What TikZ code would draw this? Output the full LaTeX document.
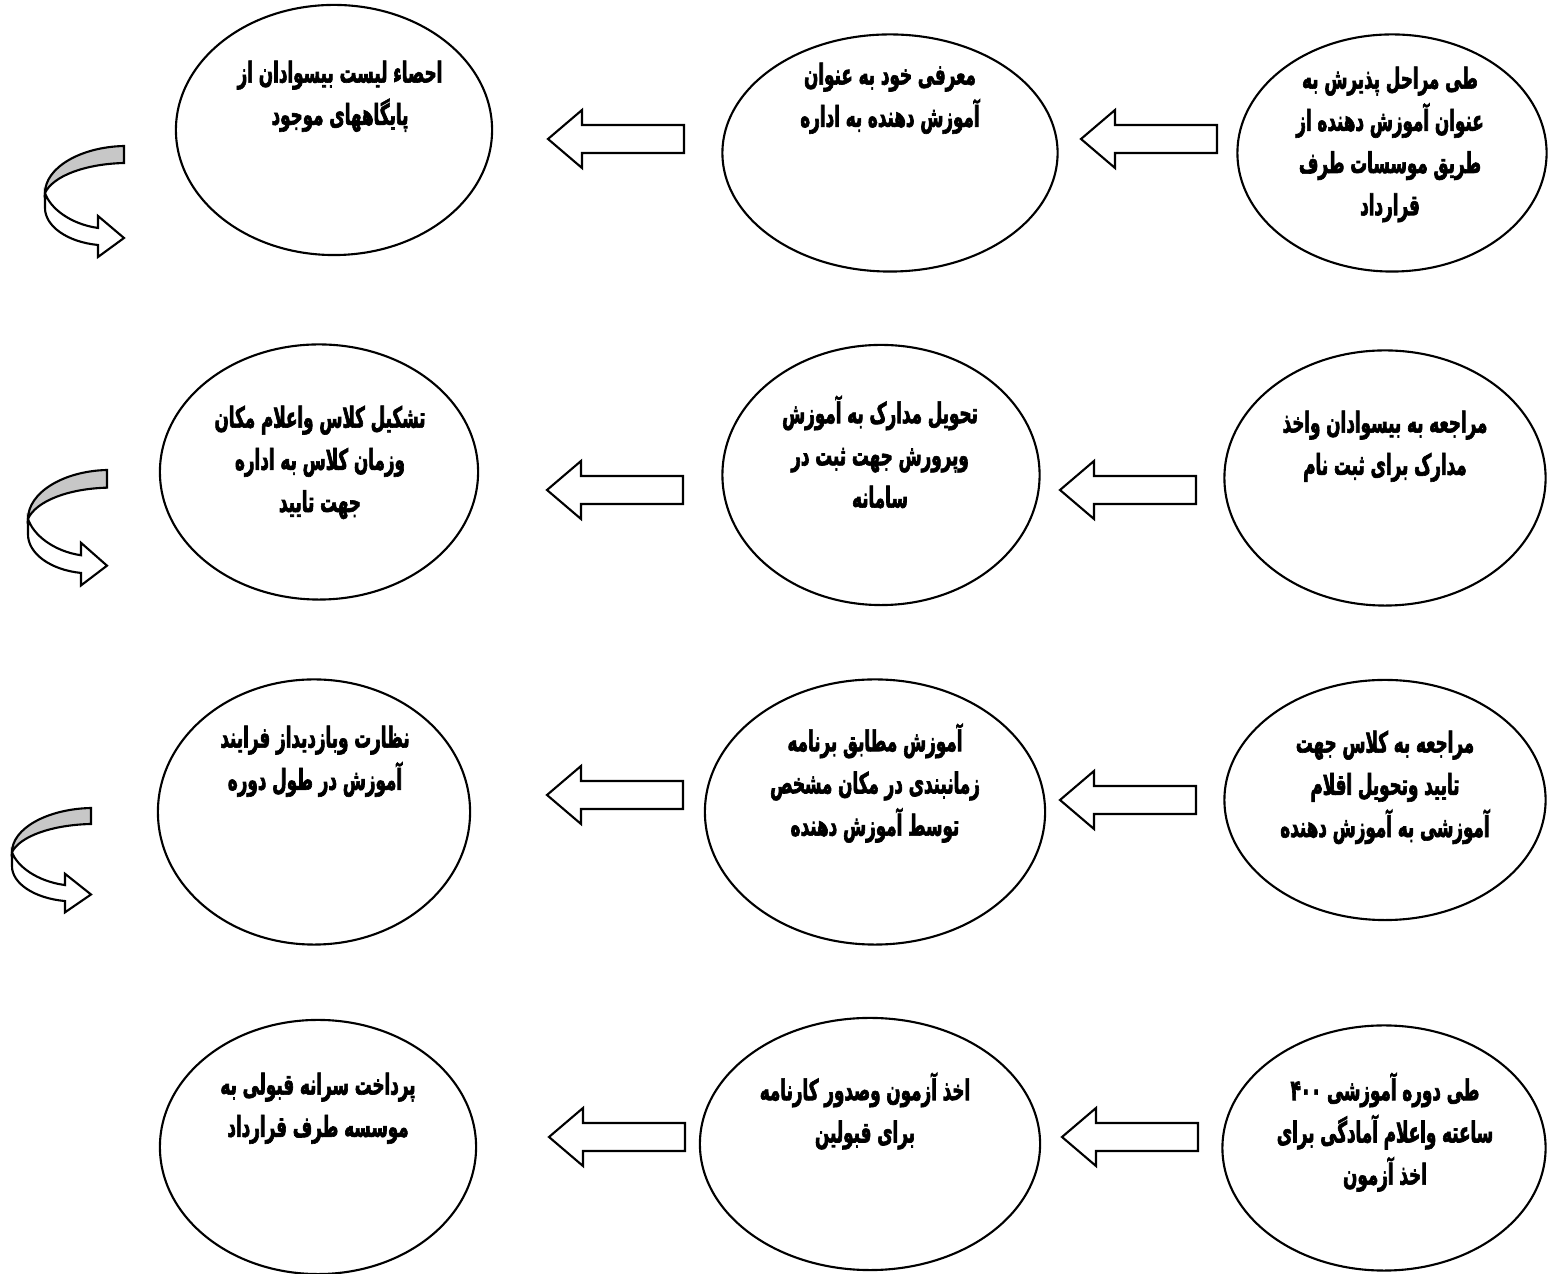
\documentclass[tikz,border=0pt]{standalone}
\usepackage{fontspec}
\newfontfamily\arabicfont[Script=Arabic, FakeStretch=0.58, FakeBold=2.2]{DejaVu Sans}
\TeXXeTstate=1
\newcommand{\fa}[1]{\beginR #1\endR}
\usetikzlibrary{shapes.geometric}

\tikzset{
  oval/.style={draw, line width=0.6pt, ellipse, inner sep=0pt},
  txt/.style={font=\arabicfont\bfseries\fontsize{8.2}{12}\selectfont, align=center, inner sep=0pt, anchor=north},
  arrline/.style={line width=0.6pt, line join=miter},
  leftarr/.pic={\draw[arrline, fill=white] (-68,0) -- (-34,-29) -- (-34,-14) -- (68,-14) -- (68,14) -- (-34,14) -- (-34,29) -- cycle;},
  turnarr/.pic={
    \draw[arrline, fill=black!22] (79,0) .. controls (35,1) and (0,22) .. (0,47) .. controls (8,30) and (40,18) .. (79,17) -- cycle;
    \draw[arrline, fill=white] (0,47) .. controls (5,62) and (25,78) .. (53,82) -- (53,70) -- (79,92) -- (53,111) -- (53,99) .. controls (22,96) and (0,80) .. (0,62) -- cycle;}
}

\begin{document}
\begin{tikzpicture}[x=0.01cm, y=-0.01cm]
  \useasboundingbox (0,0) rectangle (1548,1274);

  %Ellipses
  \node[oval, minimum width=3.09cm, minimum height=2.37cm] (e13) at (1392,153) {};
  \node[oval, minimum width=3.35cm, minimum height=2.37cm] (e12) at (890,153) {};
  \node[oval, minimum width=3.16cm, minimum height=2.50cm] (e11) at (334,130) {};

  \node[oval, minimum width=3.21cm, minimum height=2.55cm] (e23) at (1385,478) {};
  \node[oval, minimum width=3.17cm, minimum height=2.60cm] (e22) at (881,475) {};
  \node[oval, minimum width=3.18cm, minimum height=2.55cm] (e21) at (319,472) {};

  \node[oval, minimum width=3.21cm, minimum height=2.40cm] (e33) at (1385,800) {};
  \node[oval, minimum width=3.40cm, minimum height=2.65cm] (e32) at (875,812) {};
  \node[oval, minimum width=3.12cm, minimum height=2.65cm] (e31) at (314,812) {};

  \node[oval, minimum width=3.23cm, minimum height=2.45cm] (e43) at (1384,1148) {};
  \node[oval, minimum width=3.40cm, minimum height=2.52cm] (e42) at (870,1144) {};
  \node[oval, minimum width=3.16cm, minimum height=2.54cm] (e41) at (318,1147) {};

  %Texts
  \node[txt] (t13) at (1390,66) {\fa{طی مراحل پذیرش به}\\\fa{عنوان آموزش دهنده از}\\\fa{طریق موسسات طرف}\\\fa{قرارداد}};
  \node[txt] (t12) at (890,62) {\fa{معرفی خود به عنوان}\\\fa{آموزش دهنده به اداره}};
  \node[txt] (t11) at (340,60) {\fa{احصاء لیست بیسوادان  از}\\\fa{پایگاههای موجود}};

  \node[txt] (t23) at (1385,410) {\fa{مراجعه به بیسوادان واخذ}\\\fa{مدارک برای ثبت نام}};
  \node[txt] (t22) at (880,395) {\fa{تحویل مدارک به آموزش}\\\fa{وپرورش جهت ثبت در}\\\fa{سامانه}};
  \node[txt] (t21) at (320,405) {\fa{تشکیل کلاس واعلام  مکان}\\\fa{وزمان  کلاس به اداره}\\\fa{جهت تایید}};

  \node[txt] (t33) at (1385,730) {\fa{مراجعه به کلاس جهت}\\\fa{تایید وتحویل اقلام}\\\fa{آموزشی به آموزش دهنده}};
  \node[txt] (t32) at (875,723) {\fa{آموزش مطابق برنامه}\\\fa{زمانبندی در مکان مشخص}\\\fa{توسط آموزش دهنده}};
  \node[txt] (t31) at (315,725) {\fa{نظارت وبازدیداز فرایند}\\\fa{آموزش  در طول دوره}};

  \node[txt] (t43) at (1385,1072) {\fa{طی دوره آموزشی \beginL ۴۰۰\endL{}}\\\fa{ساعته واعلام آمادگی برای}\\\fa{اخذ آزمون}};
  \node[txt] (t42) at (865,1072) {\fa{اخذ آزمون وصدور کارنامه}\\\fa{برای قبولین}};
  \node[txt] (t41) at (318,1072) {\fa{پرداخت سرانه قبولی  به}\\\fa{موسسه طرف  قرارداد}};

  %Block arrows
  \foreach \x/\y in {1149/139, 616/139, 1128/490, 615/490, 1128/800, 615/795, 1130/1137, 617/1137}
    \pic at (\x,\y) {leftarr};

  %Turn arrows
  \pic at (45,146) {turnarr};
  \pic[yscale=1.04] at (28,470) {turnarr};
  \pic[yscale=0.94] at (12,808) {turnarr};

\end{tikzpicture}
\end{document}
